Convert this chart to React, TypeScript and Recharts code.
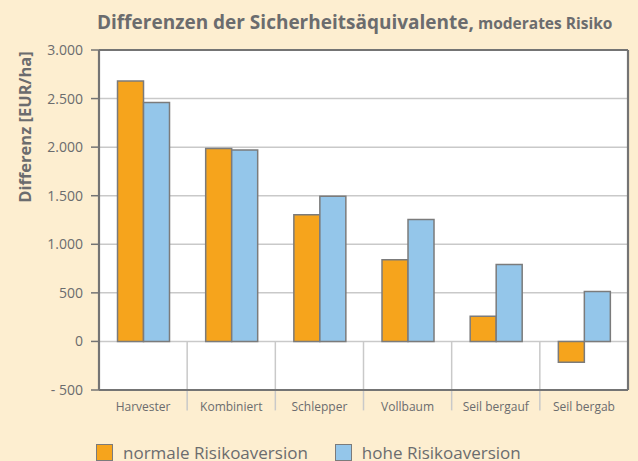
import React from 'react';
import { BarChart, Bar, XAxis, YAxis, CartesianGrid, ReferenceLine, Legend } from 'recharts';

const categories = ['Harvester', 'Kombiniert', 'Schlepper', 'Vollbaum', 'Seil bergauf', 'Seil bergab'];
const normaleValues = [2680, 1985, 1305, 840, 260, -215];
const hoheValues = [2460, 1970, 1495, 1255, 793, 515];
const seriesNames = ['normale Risikoaversion', 'hohe Risikoaversion'];
const seriesColors = ['#f6a41c', '#94c6ea'];
const yTicks = [-500, 0, 500, 1000, 1500, 2000, 2500, 3000];
const yDomain = [-500, 3000];
const separatorLow = -710;

const data = categories.map((c, i) => ({ name: c, normale: normaleValues[i], hohe: hoheValues[i] }));

const FONT = '"Open Sans", "Noto Sans", sans-serif';
const TEXT = '#6b6c6e';
const BG = '#fdeed0';
const DARK = '#747474';
const BAR_EDGE = '#7b7b7b';
const GRID = '#c9c9c9';

const fmt = (v: number) => {
  const s = String(Math.abs(v)).replace(/\B(?=(\d{3})+(?!\d))/g, '.');
  return v < 0 ? '- ' + s : s;
};

const LegendContent = (props: any) => {
  const payload = [...(props.payload || [])].sort(
    (a: any, b: any) => seriesNames.indexOf(a.value) - seriesNames.indexOf(b.value)
  );
  return (
    <div style={{ display: 'flex', alignItems: 'center', fontFamily: FONT, fontSize: 17, color: TEXT, lineHeight: '20px' }}>
      {payload.map((e: any, i: number) => (
        <div key={i} style={{ display: 'flex', alignItems: 'center', marginRight: 27 }}>
          <div style={{ width: 15, height: 15, background: e.color, border: `1.5px solid ${BAR_EDGE}`, marginRight: 10 }} />
          <span>{e.value}</span>
        </div>
      ))}
    </div>
  );
};

export default function App() {
  const axisLine = { stroke: DARK, strokeWidth: 2.2 };
  return (
    <div style={{ position: 'absolute', left: 0, top: 0, width: 638, height: 461, background: BG, overflow: 'hidden' }}>
      <div style={{ position: 'absolute', left: 97, top: 9, fontFamily: FONT, fontWeight: 700, color: TEXT, whiteSpace: 'nowrap', lineHeight: '26px' }}>
        <span style={{ fontSize: 19 }}>Differenzen der Sicherheitsäquivalente,</span>
        <span style={{ fontSize: 15.5 }}> moderates Risiko</span>
      </div>
      <div style={{ position: 'absolute', left: 23.5, top: 127, transform: 'translate(-50%, -50%) rotate(-90deg)', fontFamily: FONT, fontWeight: 700, fontSize: 16.5, color: TEXT, whiteSpace: 'nowrap' }}>
        Differenz [EUR/ha]
      </div>
      <BarChart width={638} height={461} data={data} margin={{ top: 49, right: 9, bottom: 41, left: 0 }} barCategoryGap="21%" barGap={0}>
        <CartesianGrid vertical={false} fill="#ffffff" stroke={GRID} strokeWidth={1.5} />
        <XAxis dataKey="name" height={30} axisLine={axisLine} tickLine={false} tickSize={6} tickMargin={6} interval={0}
          tick={{ fill: TEXT, fontSize: 12, fontFamily: FONT }} />
        <XAxis xAxisId="top" orientation="top" dataKey="name" height={1} axisLine={axisLine} tickLine={false} tick={false} />
        <YAxis width={99} domain={yDomain} ticks={yTicks} interval={0} tickFormatter={fmt}
          axisLine={axisLine} tickLine={{ stroke: DARK, strokeWidth: 1.5 }} tickSize={8} tickMargin={8}
          tick={{ fill: TEXT, fontSize: 14, fontFamily: FONT }} />
        <YAxis yAxisId="right" orientation="right" width={1} domain={yDomain} ticks={yTicks} axisLine={axisLine} tickLine={false} tick={false} />
        {categories.slice(1).map((c) => (
          <ReferenceLine key={c} segment={[{ x: c, y: 0 }, { x: c, y: separatorLow }]} position="start"
            stroke={GRID} strokeWidth={1.5} ifOverflow="visible" />
        ))}
        <Bar dataKey="normale" name={seriesNames[0]} fill={seriesColors[0]} stroke={BAR_EDGE} strokeWidth={1.5} isAnimationActive={false} />
        <Bar dataKey="hohe" name={seriesNames[1]} fill={seriesColors[1]} stroke={BAR_EDGE} strokeWidth={1.5} isAnimationActive={false} />
        <Legend layout="vertical" verticalAlign="middle" align="center" content={<LegendContent />}
          wrapperStyle={{ position: 'absolute', left: 96, top: 442.5, width: 540, height: 24 }} />
      </BarChart>
    </div>
  );
}
